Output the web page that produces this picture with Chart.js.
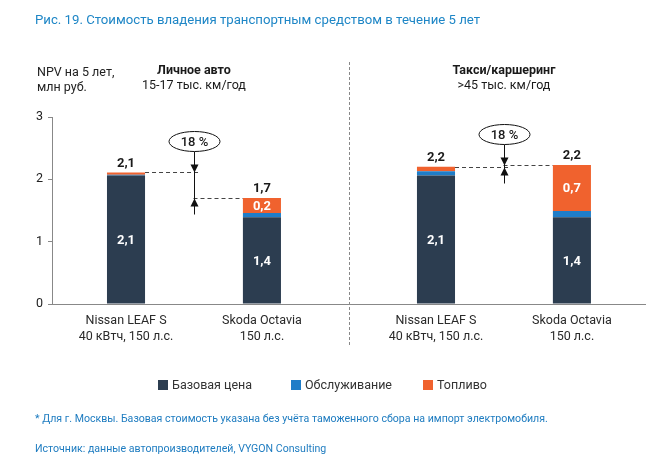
<!DOCTYPE html>
<html>
<head>
<meta charset="utf-8">
<script src="https://cdn.jsdelivr.net/npm/chart.js@4.4.1/dist/chart.umd.min.js"></script>
<style>
html,body{margin:0;padding:0;background:#fff;width:657px;height:471px;overflow:hidden;font-family:Roboto,"Noto Sans",sans-serif}
#wrap{position:relative;width:657px;height:471px}
canvas{position:absolute;left:0;top:0}
.t{position:absolute;white-space:nowrap;line-height:1}
.lg{position:absolute;top:377px;font-size:12.5px;color:#333;display:flex;align-items:center}
.sw{display:inline-block;width:10px;height:10px;margin-right:4px}
</style>
</head>
<body>
<div id="wrap">
<canvas id="c" width="657" height="471"></canvas>
<div class="t" id="title" style="left:35px;top:13px;font-size:13.2px;color:#1e86c6">Рис. 19. Стоимость владения транспортным средством в течение 5 лет</div>
<div class="t" id="ytitle" style="left:37px;top:64px;font-size:12.5px;color:#222;line-height:15px"></div>
<div id="legend"></div>
<div class="t" id="note" style="left:35px;top:414px;font-size:10.6px;color:#1e7cc0"></div>
<div class="t" id="src" style="left:35px;top:444px;font-size:10.6px;color:#1e7cc0"></div>
</div>
<script>
// ---- data ----
const groups = ['Личное авто', 'Такси/каршеринг'];
const groupNotes = ['15-17 тыс. км/год', '>45 тыс. км/год'];
const cars = ['Nissan LEAF S', 'Skoda Octavia'];
const carNotes = ['40 кВтч, 150 л.с.', '150 л.с.'];
const components = ['Базовая цена', 'Обслуживание', 'Топливо'];
const leafBase = [2.06, 2.06];
const leafService = [0.015, 0.07];
const leafFuel = [0.035, 0.07];
const skodaBase = [1.39, 1.39];
const skodaService = [0.07, 0.10];
const skodaFuel = [0.24, 0.74];
const savings = ['18 %', '18 %'];
const yTicks = [0, 1, 2, 3];
const yTitle = ['NPV на 5 лет,', 'млн руб.'];
const noteText = '* Для г. Москвы. Базовая стоимость указана без учёта таможенного сбора на импорт электромобиля.';
const sourceText = 'Источник: данные автопроизводителей, VYGON Consulting';

// ---- styles ----
const colors = ['#2c3d50', '#1f7dc8', '#f0622e'];
const FONT = 'Roboto, "Noto Sans", sans-serif';

document.getElementById('ytitle').innerHTML = yTitle.join('<br>');
document.getElementById('note').textContent = noteText;
document.getElementById('src').textContent = sourceText;
const legendLeft = [158, 291, 423];
const lg = document.getElementById('legend');
components.forEach((c, k) => {
  const d = document.createElement('div');
  d.className = 'lg';
  d.style.left = legendLeft[k] + 'px';
  d.innerHTML = '<span class="sw" style="background:' + colors[k] + '"></span>' + c;
  lg.appendChild(d);
});

const carValues = [[leafBase, leafService, leafFuel], [skodaBase, skodaService, skodaFuel]];
const datasets = [];
cars.forEach((car, c) => {
  components.forEach((comp, k) => {
    datasets.push({
      label: comp,
      stack: car,
      carIndex: c,
      compIndex: k,
      backgroundColor: colors[k],
      borderWidth: 0,
      data: groups.map((g, i) => ({ x: i, y: carValues[c][k][i] }))
    });
  });
});

const fmt = v => v.toFixed(1).replace('.', ',');

const overlay = {
  id: 'overlay',
  afterDatasetsDraw(chart) {
    const ctx = chart.ctx;
    const xs = chart.scales.x;
    const area = chart.chartArea;
    ctx.save();
    ctx.textAlign = 'center';
    ctx.textBaseline = 'middle';
    chart.data.datasets.forEach((ds, di) => {
      const meta = chart.getDatasetMeta(di);
      meta.data.forEach((el, i) => {
        const v = ds.data[i].y;
        if (ds.compIndex === 0) {
          ctx.fillStyle = '#fff';
          ctx.font = 'bold 13px ' + FONT;
          ctx.fillText(fmt(v), el.x, (el.y + el.base) / 2 + 1);
        }
        if (ds.compIndex === 2) {
          if (v >= 0.15) {
            ctx.fillStyle = '#fff';
            ctx.font = 'bold 13px ' + FONT;
            ctx.fillText(fmt(v), el.x, (el.y + el.base) / 2 + 1);
          }
          const c = ds.carIndex;
          const total = carValues[c].reduce((s, arr) => s + arr[i], 0);
          ctx.fillStyle = '#1a1a1a';
          ctx.font = 'bold 13px ' + FONT;
          ctx.fillText(fmt(total), el.x, el.y - 9);
          ctx.font = '12.5px ' + FONT;
          ctx.fillStyle = '#2a2a2a';
          ctx.fillText(cars[c], el.x, area.bottom + 17);
          ctx.fillText(carNotes[c], el.x, area.bottom + 33);
        }
      });
    });
    groups.forEach((g, i) => {
      const cx = xs.getPixelForValue(i);
      ctx.fillStyle = '#1a1a1a';
      ctx.font = 'bold 12.5px ' + FONT;
      ctx.fillText(g, cx, 71);
      ctx.font = '12.5px ' + FONT;
      ctx.fillText(groupNotes[i], cx, 86);
    });
    const sepX = Math.round((xs.getPixelForValue(0) + xs.getPixelForValue(1)) / 2) + 0.5;
    ctx.strokeStyle = '#888';
    ctx.lineWidth = 1;
    ctx.setLineDash([3, 2]);
    ctx.beginPath();
    ctx.moveTo(sepX, 62);
    ctx.lineTo(sepX, 346);
    ctx.stroke();
    const findMeta = (c, k) => chart.getDatasetMeta(chart.data.datasets.findIndex(d => d.carIndex === c && d.compIndex === k));
    groups.forEach((g, i) => {
      const cx = Math.round(xs.getPixelForValue(i)) + 0.5;
      const a = findMeta(0, 2).data[i];
      const b = findMeta(1, 2).data[i];
      const yA = Math.round(a.y) + 0.5, yB = Math.round(b.y) + 0.5;
      const top = Math.min(yA, yB), bot = Math.max(yA, yB);
      ctx.strokeStyle = '#444';
      ctx.setLineDash([4, 3]);
      ctx.beginPath();
      ctx.moveTo(a.x + a.width / 2, yA);
      ctx.lineTo(cx + 4, yA);
      ctx.moveTo(cx - 1, yB);
      ctx.lineTo(b.x - b.width / 2, yB);
      ctx.stroke();
      ctx.setLineDash([]);
      const ey = top - 31;
      ctx.strokeStyle = '#111';
      ctx.beginPath();
      ctx.moveTo(cx, ey + 10);
      ctx.lineTo(cx, bot + 16);
      ctx.stroke();
      ctx.fillStyle = '#111';
      ctx.beginPath();
      ctx.moveTo(cx, top); ctx.lineTo(cx - 4, top - 8); ctx.lineTo(cx + 4, top - 8); ctx.closePath();
      ctx.moveTo(cx, bot); ctx.lineTo(cx - 4, bot + 8); ctx.lineTo(cx + 4, bot + 8); ctx.closePath();
      ctx.fill();
      ctx.beginPath();
      ctx.ellipse(cx, ey, 25.5, 10, 0, 0, Math.PI * 2);
      ctx.fillStyle = '#fff';
      ctx.fill();
      ctx.strokeStyle = '#111';
      ctx.stroke();
      ctx.fillStyle = '#1a1a1a';
      ctx.font = '500 13px ' + FONT;
      ctx.fillText(savings[i], cx, ey + 1);
    });
    ctx.restore();
  }
};

new Chart(document.getElementById('c'), {
  type: 'bar',
  data: { datasets },
  options: {
    responsive: false,
    animation: false,
    categoryPercentage: 0.877,
    barPercentage: 0.28,
    layout: { padding: { left: 12, right: 12, top: 117, bottom: 167 } },
    plugins: { legend: { display: false }, tooltip: { enabled: false } },
    scales: {
      x: {
        type: 'linear',
        min: -0.458,
        max: 1.455,
        offset: false,
        stacked: true,
        ticks: { display: false },
        grid: { display: false, offset: false },
        border: { color: '#888', width: 1 },
        afterBuildTicks(s) { s.ticks = groups.map((g, i) => ({ value: i })); },
        afterFit(s) { s.height = 0; }
      },
      y: {
        min: 0,
        max: 3,
        stacked: true,
        afterBuildTicks(s) { s.ticks = yTicks.map(v => ({ value: v })); },
        ticks: { color: '#222', font: { size: 12.5, family: FONT }, padding: 5 },
        grid: { drawOnChartArea: false, drawTicks: true, tickLength: 4, color: '#888' },
        border: { color: '#888', width: 1 },
        afterFit(s) { s.width = 40; }
      }
    }
  },
  plugins: [overlay]
});
</script>
</body>
</html>
